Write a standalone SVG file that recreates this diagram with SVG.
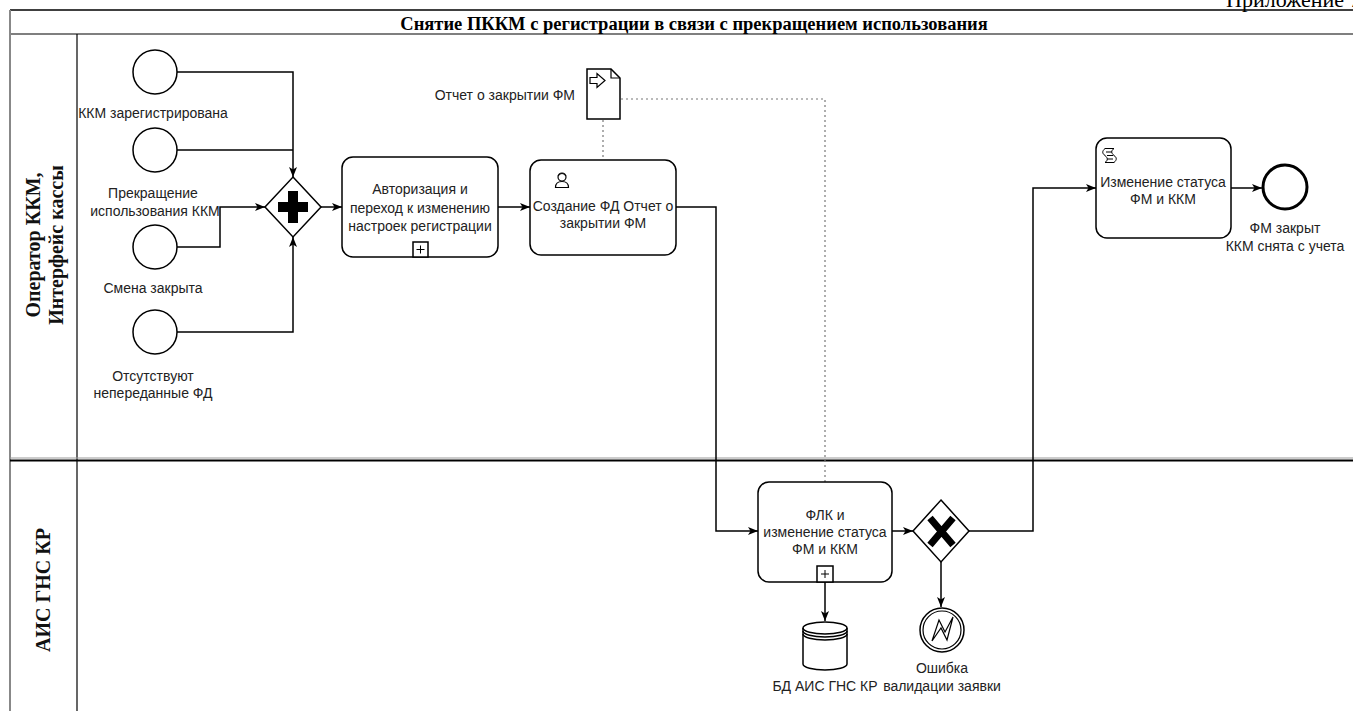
<svg xmlns="http://www.w3.org/2000/svg" width="1353" height="711" viewBox="0 0 1353 711">
<style>
.t{font-family:"Liberation Sans",Arial,sans-serif;font-size:14px;fill:#222;text-anchor:middle}
.lane{font-family:"Liberation Serif","Times New Roman",serif;font-weight:bold;font-size:20px;fill:#111;text-anchor:middle}
.sh{fill:#fff;stroke:#000;stroke-width:1.5}
.ln{fill:none;stroke:#000;stroke-width:1.5}
.dot{fill:none;stroke:#777;stroke-width:1.2;stroke-dasharray:2,3}
</style>
<defs>
<marker id="arr" markerWidth="10" markerHeight="10" refX="10" refY="5" orient="auto" markerUnits="userSpaceOnUse">
<path d="M0,1 L10,5 L0,9 L2.5,5 Z" fill="#000"/>
</marker>
</defs>
<rect x="0" y="0" width="1353" height="711" fill="#fff"/>

<g id="pool">
<text x="1226" y="7" font-family="Liberation Serif,serif" font-size="22" fill="#000">Приложение 7</text>
<line x1="10" y1="10" x2="1353" y2="10" stroke="#000" stroke-width="1.5"/>
<line x1="10" y1="34" x2="1353" y2="34" stroke="#000" stroke-width="1.2"/>
<line x1="10" y1="10" x2="10" y2="711" stroke="#888" stroke-width="2"/>
<line x1="77" y1="34" x2="77" y2="711" stroke="#000" stroke-width="1.2"/>
<line x1="10" y1="458" x2="1353" y2="458" stroke="#999" stroke-width="1"/>
<line x1="10" y1="460.5" x2="1353" y2="460.5" stroke="#000" stroke-width="2"/>
<text x="694" y="30" font-family="Liberation Serif,serif" font-weight="bold" font-size="18.5" fill="#000" text-anchor="middle">Снятие ПККМ с регистрации в связи с прекращением использования</text>
<text class="lane" transform="translate(43,245) rotate(-90)"><tspan x="0" y="-3">Оператор ККМ,</tspan><tspan x="0" y="20">Интерфейс кассы</tspan></text>
<text class="lane" transform="translate(50,590) rotate(-90)" x="0" y="0">АИС ГНС КР</text>
</g>

<g id="connectors">
<polyline class="ln" points="177,72 293,72 293,177" marker-end="url(#arr)"/>
<polyline class="ln" points="177,150 293,150"/>
<polyline class="ln" points="177,247 220,247 220,207 265,207" marker-end="url(#arr)"/>
<polyline class="ln" points="177,332 293,332 293,237" marker-end="url(#arr)"/>
<line class="ln" x1="321" y1="207" x2="342" y2="207" marker-end="url(#arr)"/>
<line class="ln" x1="498" y1="207" x2="530" y2="207" marker-end="url(#arr)"/>
<polyline class="ln" points="676,207 716,207 716,531 758,531" marker-end="url(#arr)"/>
<line class="ln" x1="892" y1="531" x2="913" y2="531" marker-end="url(#arr)"/>
<polyline class="ln" points="969,531 1033,531 1033,188 1096,188" marker-end="url(#arr)"/>
<line class="ln" x1="1231" y1="188" x2="1262" y2="188" marker-end="url(#arr)"/>
<line class="ln" x1="941" y1="562" x2="941" y2="607" marker-end="url(#arr)"/>
<line class="ln" x1="825" y1="582" x2="825" y2="621" marker-end="url(#arr)"/>
<polyline class="dot" points="603,120 603,160"/>
<polyline class="dot" points="621,99 825,99 825,482"/>
</g>

<g id="start1">
<circle class="sh" cx="155" cy="72" r="22"/>
<text class="t" x="153" y="118">ККМ зарегистрирована</text>
</g>
<g id="start2">
<circle class="sh" cx="155" cy="150" r="22"/>
<text class="t" x="153" y="198">Прекращение</text>
<text class="t" x="155" y="216">использования ККМ</text>
</g>
<g id="start3">
<circle class="sh" cx="155" cy="247" r="22"/>
<text class="t" x="153" y="293">Смена закрыта</text>
</g>
<g id="start4">
<circle class="sh" cx="155" cy="332" r="22"/>
<text class="t" x="153" y="381">Отсутствуют</text>
<text class="t" x="153" y="398">непереданные ФД</text>
</g>

<g id="gateway1">
<polygon class="sh" points="293,177 321,207 293,237 265,207"/>
<rect x="288" y="191" width="10" height="32" fill="#000"/>
<rect x="278" y="202" width="30" height="10" fill="#000"/>
</g>

<g id="task1">
<rect class="sh" x="342" y="157" width="156" height="100" rx="11"/>
<rect class="sh" x="413" y="242" width="15" height="15" stroke-width="1"/>
<path d="M416.5,249.5 h8 M420.5,245.5 v8" stroke="#000" stroke-width="1"/>
<text class="t" x="420" y="194">Авторизация и</text>
<text class="t" x="420" y="213">переход к изменению</text>
<text class="t" x="420" y="231">настроек регистрации</text>
</g>

<g id="task2">
<rect class="sh" x="530" y="160" width="146" height="95" rx="11"/>
<circle cx="562" cy="177" r="4" fill="#fff" stroke="#000" stroke-width="1.2"/>
<path d="M555.5,187.5 Q555.5,181.5 562,181.5 Q568.5,181.5 568.5,187.5 Z" fill="#fff" stroke="#000" stroke-width="1.2"/>
<path d="M558,176 Q562,171 566,176" fill="none" stroke="#000" stroke-width="1.2"/>
<text class="t" x="603" y="211">Создание ФД Отчет о</text>
<text class="t" x="603" y="228">закрытии ФМ</text>
</g>

<g id="doc">
<path class="sh" d="M587,69 L611,69 L620,78 L620,119 L587,119 Z"/>
<path d="M611,69 L611,78 L620,78" fill="none" stroke="#000" stroke-width="1.2"/>
<path d="M590,77.5 L597,77.5 L597,73.5 L605,80.5 L597,87.5 L597,83.5 L590,83.5 Z" fill="#fff" stroke="#000" stroke-width="1.2"/>
<text class="t" x="575" y="100" style="text-anchor:end">Отчет о закрытии ФМ</text>
</g>

<g id="task3">
<rect class="sh" x="758" y="482" width="134" height="100" rx="11"/>
<rect class="sh" x="817" y="566" width="16" height="16" stroke-width="1"/>
<path d="M821,574 h8 M825,570 v8" stroke="#000" stroke-width="1"/>
<text class="t" x="825" y="520">ФЛК и</text>
<text class="t" x="825" y="537">изменение статуса</text>
<text class="t" x="825" y="554">ФМ и ККМ</text>
</g>

<g id="gateway2">
<polygon class="sh" points="941,500 969,531 941,562 913,531"/>
<path d="M930,518 L953,545 M953,518 L930,545" stroke="#000" stroke-width="7"/>
</g>

<g id="datastore">
<path class="sh" d="M803,628 A22,6 0 0 1 847,628 L847,664 A22,6 0 0 1 803,664 Z"/>
<path class="ln" d="M803,628 A22,6 0 0 0 847,628 M803,631 A22,6 0 0 0 847,631 M803,634 A22,6 0 0 0 847,634" stroke-width="1.2"/>
<text class="t" x="825" y="691">БД АИС ГНС КР</text>
</g>

<g id="error">
<circle class="sh" cx="942" cy="630" r="22"/>
<circle cx="942" cy="630" r="19" fill="none" stroke="#000" stroke-width="1.2"/>
<path d="M932,641 L939,620 L945,632 L953,617 L947,640 L941,628 Z" fill="#fff" stroke="#000" stroke-width="1.2"/>
<text class="t" x="942" y="673">Ошибка</text>
<text class="t" x="942" y="691">валидации заявки</text>
</g>

<g id="task4">
<rect class="sh" x="1096" y="138" width="135" height="100" rx="11"/>
<path d="M1105,148.5 h9 c-3,2 -3,4.5 0,7 c3,2 3,4.5 0,7 h-9 c3,-2 3,-4.5 0,-7 c-3,-2 -3,-4.5 0,-7 z M1106,152 h6 M1107,155.5 h6 M1107,159 h6" fill="#fff" stroke="#000" stroke-width="1"/>
<text class="t" x="1163" y="187">Изменение статуса</text>
<text class="t" x="1163" y="204">ФМ и ККМ</text>
</g>

<g id="end">
<circle cx="1285" cy="187" r="22" fill="#fff" stroke="#000" stroke-width="3"/>
<text class="t" x="1285" y="233">ФМ закрыт</text>
<text class="t" x="1285" y="251">ККМ снята с учета</text>
</g>
</svg>
